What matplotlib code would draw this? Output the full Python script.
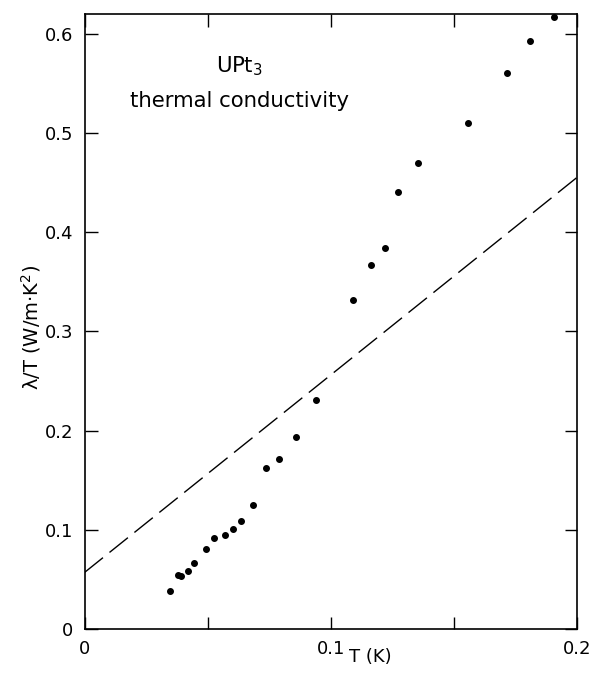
import numpy
import matplotlib.pyplot as plt

# measured points: T (K), lambda/T (W/m K^2)
temp = [0.0348, 0.0379, 0.0392, 0.0422, 0.0446, 0.0495, 0.0527, 0.0569,
        0.0604, 0.0636, 0.0685, 0.0738, 0.0788, 0.0859, 0.0939, 0.1092,
        0.1162, 0.1221, 0.1275, 0.1354, 0.1558, 0.1715, 0.1808, 0.1907]
kappa = [0.0382, 0.0541, 0.0534, 0.0588, 0.0666, 0.0808, 0.0913, 0.0948,
         0.1012, 0.1090, 0.1246, 0.1620, 0.1715, 0.1935, 0.2313, 0.3320,
         0.3670, 0.3837, 0.4403, 0.4697, 0.5097, 0.5608, 0.5927, 0.6167]

# dashed reference line
line_t = [0.0, 0.2]
line_k = [0.057, 0.455]

x_ticks = [0, 0.05, 0.1, 0.15, 0.2]
x_labels = ['0', '', '0.1', '', '0.2']
y_ticks = [0, 0.1, 0.2, 0.3, 0.4, 0.5, 0.6]
y_labels = ['0', '0.1', '0.2', '0.3', '0.4', '0.5', '0.6']

plt.rcParams['font.family'] = ['DejaVu Sans']

fig = plt.figure(figsize=(6.04, 6.73), dpi=100)
ax = fig.add_axes([0.140, 0.0654, 0.815, 0.914])

ax.plot(line_t, line_k, color='black', linewidth=1.0, dashes=(17, 6))
ax.plot(temp, kappa, 'o', color='black', markersize=4.0)

ax.set_xlim(0, 0.2)
ax.set_ylim(0, 0.62)
ax.set_xticks(x_ticks)
ax.set_xticklabels(x_labels)
ax.set_yticks(y_ticks)
ax.set_yticklabels(y_labels)
ax.tick_params(direction='in', length=9, width=1.0, labelsize=13,
               top=True, right=True, pad=8)
for s in ax.spines.values():
    s.set_linewidth(1.2)

ax.set_xlabel('T (K)', fontsize=13)
ax.xaxis.set_label_coords(0.58, -0.031)
ax.set_ylabel('λ/T (W/m·K$^2$)', fontsize=14)
ax.yaxis.set_label_coords(-0.085, 0.49)

ax.text(0.314, 0.915, 'UPt$_3$', transform=ax.transAxes, fontsize=15.3,
        ha='center', va='center')
ax.text(0.314, 0.858, 'thermal conductivity', transform=ax.transAxes,
        fontsize=15.3, ha='center', va='center')

plt.savefig('out.png', dpi=100)
